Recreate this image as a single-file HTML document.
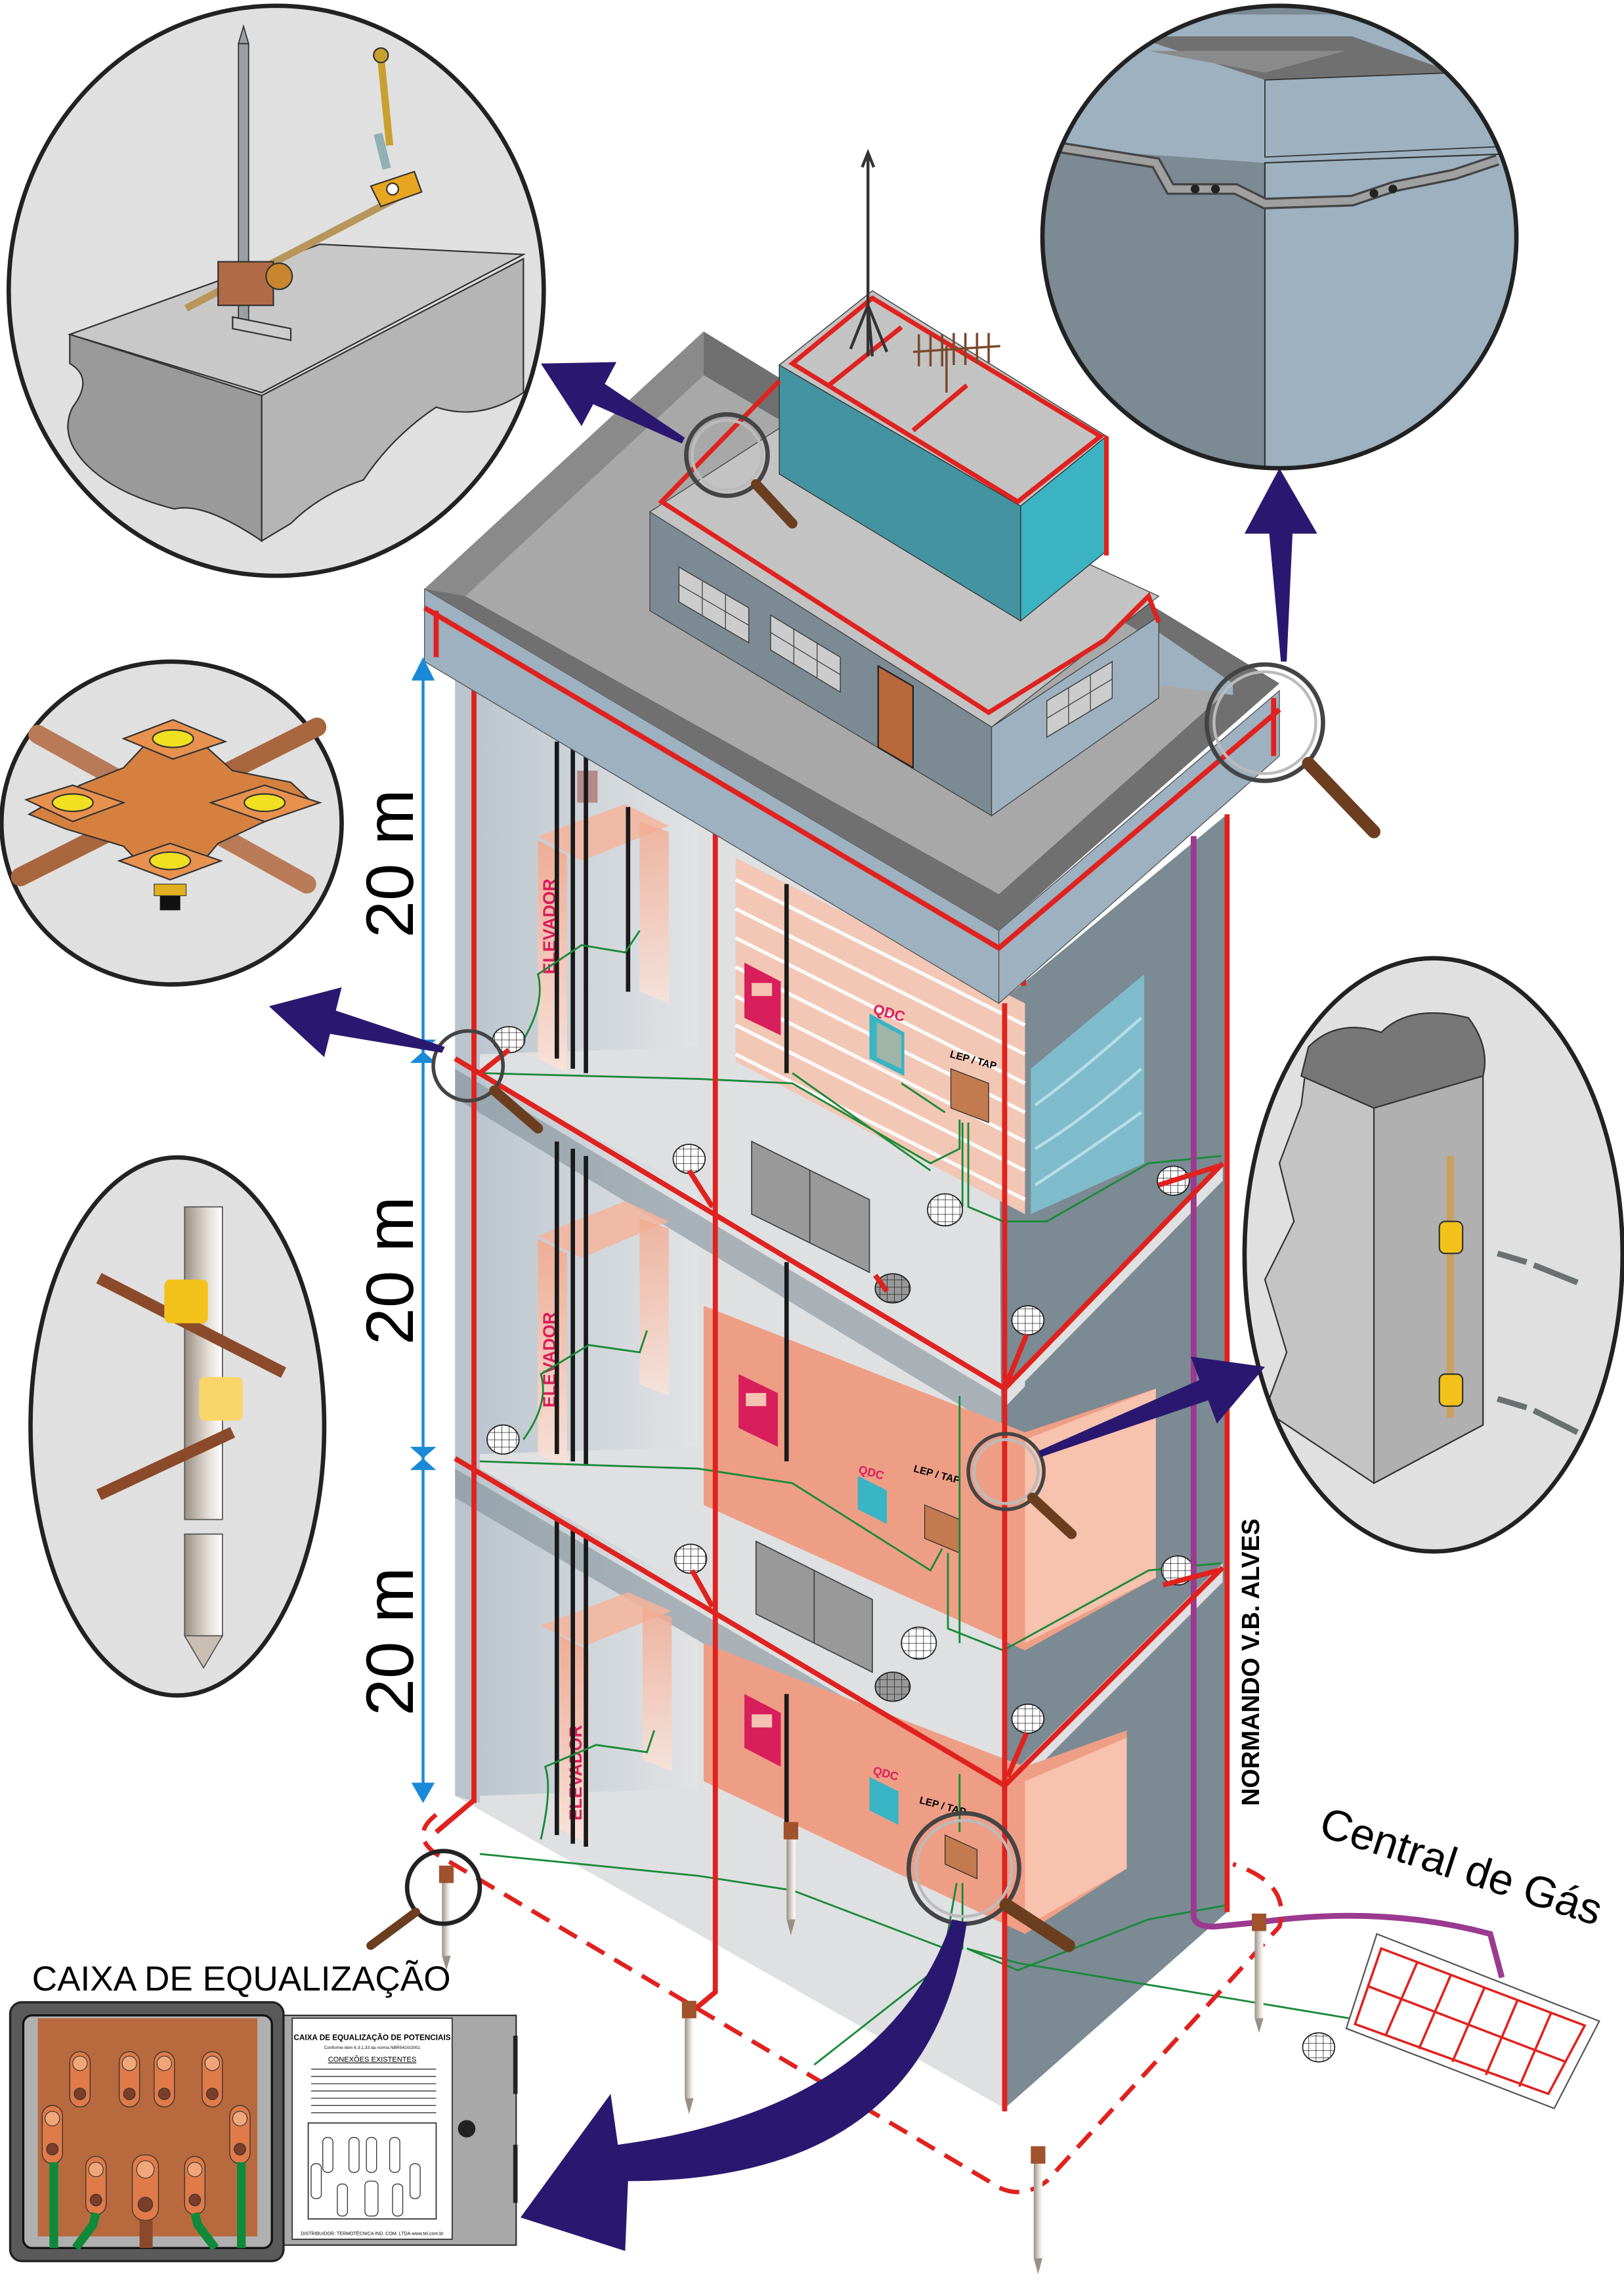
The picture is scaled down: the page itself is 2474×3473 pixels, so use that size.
<!DOCTYPE html>
<html><head><meta charset="utf-8"><style>
html,body{margin:0;padding:0;background:#fff}
svg{display:block}
text{font-family:"Liberation Sans",sans-serif}
</style></head><body>
<svg width="2474" height="3473" viewBox="0 0 1117 1568" preserveAspectRatio="none" xmlns="http://www.w3.org/2000/svg">
<defs>
<pattern id="mesh" width="5" height="5" patternUnits="userSpaceOnUse"><rect width="5" height="5" fill="#fff"/><path d="M0 0H5M0 0V5" stroke="#222" stroke-width="0.7"/></pattern>
<pattern id="meshd" width="5" height="5" patternUnits="userSpaceOnUse"><rect width="5" height="5" fill="#999"/><path d="M0 0H5M0 0V5" stroke="#222" stroke-width="0.7"/></pattern>
<linearGradient id="lw" x1="0" x2="1"><stop offset="0" stop-color="#b4c0ca"/><stop offset="1" stop-color="#e2e4e6"/></linearGradient>
<linearGradient id="rod" x1="0" x2="1"><stop offset="0" stop-color="#9a8f84"/><stop offset="0.6" stop-color="#e2dbd3"/><stop offset="1" stop-color="#fff"/></linearGradient>
<linearGradient id="elev" x1="0" x2="0" y1="0" y2="1"><stop offset="0" stop-color="#f2a98f"/><stop offset="1" stop-color="#fbe3d8"/></linearGradient>
<clipPath id="c1"><ellipse cx="190" cy="200" rx="184" ry="196"/></clipPath>
<clipPath id="c2"><ellipse cx="880" cy="163" rx="163" ry="159"/></clipPath>
<clipPath id="c5"><ellipse cx="986" cy="863" rx="130" ry="204"/></clipPath>
</defs>

<!-- ===== BUILDING ===== -->
<polygon points="687,690 844,560 844,1315 691,1450" fill="#7b8a93"/>
<polygon points="313,455 687,690 691,1450 313,1235" fill="#dfe0e2"/>
<polygon points="313,455 330,465 330,1240 313,1235" fill="#b9c4cd"/>
<polygon points="330,465 480,560 480,720 330,725" fill="url(#lw)" opacity="0.8"/>
<polygon points="330,740 480,820 480,995 330,1000" fill="url(#lw)" opacity="0.8"/>
<polygon points="330,1010 480,1095 480,1230 330,1235" fill="url(#lw)" opacity="0.8"/>
<polygon points="313,735 691,962 841,812 841,830 691,985 313,755" fill="#7b8a93" opacity="0.55"/>
<polygon points="313,1010 691,1232 841,1085 841,1100 691,1252 313,1030" fill="#7b8a93" opacity="0.55"/>
<polygon points="691,955 841,800 841,812 691,968" fill="#dfe0e2"/>
<polygon points="705,950 841,812 841,930 705,1010" fill="#7b8a93"/>
<polygon points="691,1225 841,1075 841,1088 691,1238" fill="#dfe0e2"/>
<polygon points="506,590 705,690 705,835 506,730" fill="#f3c7b5"/>
<g stroke="#fff" stroke-width="2.5" opacity="0.9">
<path d="M506,605 L705,705 M506,625 L705,725 M506,645 L705,745 M506,665 L705,765 M506,685 L705,785 M506,705 L705,805 M506,725 L705,825"/>
</g>
<polygon points="709,735 787,670 787,800 709,835" fill="#7fbccb"/>
<path d="M712,760 Q740,740 785,700 M712,790 Q745,770 785,735 M712,815 Q750,790 785,765" stroke="#b8dde6" stroke-width="2" fill="none"/>
<polygon points="484,898 705,985 795,955 795,1085 705,1135 484,1035" fill="#ef9e86"/>
<polygon points="705,990 795,955 795,1085 705,1130" fill="#f7c2ae"/>
<polygon points="484,1130 705,1215 775,1190 775,1285 705,1330 484,1225" fill="#ef9e86"/>
<polygon points="705,1225 775,1195 775,1285 705,1325" fill="#f7c2ae"/>

<g>
<polygon points="370,575 430,553 460,568 400,592" fill="#f4b49c" opacity="0.85"/>
<polygon points="370,578 390,588 390,738 370,728" fill="url(#elev)" opacity="0.9"/>
<polygon points="440,565 460,572 460,690 440,682" fill="url(#elev)" opacity="0.8"/>
<polygon points="370,850 430,826 460,840 400,865" fill="#f4b49c" opacity="0.85"/>
<polygon points="370,852 390,862 390,1010 370,1000" fill="url(#elev)" opacity="0.9"/>
<polygon points="440,838 460,845 460,960 440,952" fill="url(#elev)" opacity="0.8"/>
<polygon points="372,1118 432,1095 462,1108 402,1132" fill="#f4b49c" opacity="0.85"/>
<polygon points="385,1125 405,1135 405,1268 385,1258" fill="url(#elev)" opacity="0.9"/>
<polygon points="442,1106 462,1112 462,1218 442,1210" fill="url(#elev)" opacity="0.8"/>
</g>
<text transform="translate(382,670) rotate(-90)" font-size="12" font-weight="bold" fill="#d81e5b">ELEVADOR</text>
<text transform="translate(382,968) rotate(-90)" font-size="12" font-weight="bold" fill="#d81e5b">ELEVADOR</text>
<text transform="translate(400,1252) rotate(-90)" font-size="12" font-weight="bold" fill="#d81e5b">ELEVADOR</text>
<rect x="397" y="530" width="14" height="22" fill="#b58a88"/>
<g stroke="#1a1a1a" stroke-width="3">
<path d="M383,510V728 M394,515V735 M403,520V738 M432,555V682"/>
<path d="M383,785V1000 M394,790V1005 M403,795V1008"/>
<path d="M383,1045V1262 M394,1050V1268 M403,1055V1270"/>
<path d="M541,608V738 M541,868V1005 M541,1165V1262"/>
</g>
<g fill="#d81e5b">
<polygon points="512,662 537,675 537,712 512,700"/>
<polygon points="508,945 535,958 535,995 508,982"/>
<polygon points="512,1165 537,1178 537,1215 512,1202"/>
</g>
<g fill="#f6c3b2"><rect x="517" y="676" width="14" height="9"/><rect x="513" y="958" width="14" height="9"/><rect x="517" y="1179" width="14" height="9"/></g>
<polygon points="598,697 622,710 622,740 598,728" fill="#38b4c5"/><polygon points="603,703 620,712 620,735 603,727" fill="#9fb5a8"/>
<text x="600" y="697" font-size="10" font-weight="bold" fill="#d81e5b" transform="rotate(15 600 697)">QDC</text>
<polygon points="590,1015 610,1025 610,1048 590,1038" fill="#38b4c5"/>
<text x="590" y="1013" font-size="8" font-weight="bold" fill="#d81e5b" transform="rotate(15 590 1013)">QDC</text>
<polygon points="598,1222 618,1232 618,1255 598,1245" fill="#38b4c5"/>
<text x="600" y="1220" font-size="8" font-weight="bold" fill="#d81e5b" transform="rotate(15 600 1220)">QDC</text>
<polygon points="654,735 680,745 680,772 654,762" fill="#c27a4e" stroke="#333" stroke-width="0.6"/>
<text x="653" y="727" font-size="7" font-weight="bold" transform="rotate(15 653 727)">LEP / TAP</text>
<polygon points="636,1035 660,1045 660,1068 636,1058" fill="#c27a4e" stroke="#333" stroke-width="0.6"/>
<text x="628" y="1012" font-size="7" font-weight="bold" transform="rotate(15 628 1012)">LEP / TAP</text>
<polygon points="650,1262 672,1272 672,1292 650,1282" fill="#c27a4e" stroke="#333" stroke-width="0.6"/>
<text x="632" y="1240" font-size="7" font-weight="bold" transform="rotate(15 632 1240)">LEP / TAP</text>
<polygon points="517,785 598,825 598,875 517,835" fill="#999" stroke="#444" stroke-width="0.8"/>
<path d="M557,805V855" stroke="#444" stroke-width="0.8"/>
<polygon points="520,1060 600,1100 600,1150 520,1110" fill="#999" stroke="#444" stroke-width="0.8"/>
<path d="M560,1080V1130" stroke="#444" stroke-width="0.8"/>
<g stroke="#1a8a3a" stroke-width="1.3" fill="none">
<path d="M360,715 Q375,690 370,670 L400,650 L430,655 L440,640"/>
<path d="M330,738 L480,742 L545,745 L640,800 L660,790 L660,770"/>
<path d="M545,738 L640,805 M620,745 L650,765 M662,772 L662,830 M666,772 L666,830 L690,840 L720,840 L790,800 L840,795"/>
<path d="M360,990 Q378,965 372,945 L405,925 L440,930 L445,915"/>
<path d="M330,1005 L480,1010 L545,1020 L640,1080 L648,1065 M652,1068 L652,1120 L690,1135 L790,1080 L840,1075 M660,960 L660,1130"/>
<path d="M372,1265 Q380,1230 375,1215 L410,1200 L445,1205 L450,1190"/>
<path d="M330,1275 L480,1290 L545,1300 L650,1340 L658,1295 M662,1295 L662,1340 L560,1420 M665,1340 L700,1355 L790,1320 L845,1310 M665,1340 L700,1350 L940,1390 M660,1220 L660,1260"/>
</g>
<g stroke="#222" stroke-width="0.8">
<ellipse cx="350" cy="715" rx="11" ry="9" fill="url(#mesh)"/>
<ellipse cx="474" cy="797" rx="11" ry="10" fill="url(#mesh)"/>
<ellipse cx="650" cy="832" rx="12" ry="11" fill="url(#mesh)"/>
<ellipse cx="614" cy="886" rx="12" ry="10" fill="url(#meshd)"/>
<ellipse cx="707" cy="908" rx="11" ry="10" fill="url(#mesh)"/>
<ellipse cx="807" cy="812" rx="11" ry="10" fill="url(#mesh)"/>
<ellipse cx="346" cy="990" rx="11" ry="10" fill="url(#mesh)"/>
<ellipse cx="475" cy="1072" rx="11" ry="10" fill="url(#mesh)"/>
<ellipse cx="632" cy="1130" rx="12" ry="11" fill="url(#mesh)"/>
<ellipse cx="614" cy="1160" rx="12" ry="10" fill="url(#meshd)"/>
<ellipse cx="707" cy="1182" rx="11" ry="10" fill="url(#mesh)"/>
<ellipse cx="810" cy="1080" rx="11" ry="10" fill="url(#mesh)"/>
<ellipse cx="907" cy="1408" rx="11" ry="10" fill="url(#mesh)"/>
</g>
<path d="M821,575 V1318 Q822,1325 835,1325 L866,1322 Q950,1310 1025,1330 L1033,1360" stroke="#9b3a8f" stroke-width="4" fill="none"/>
<g stroke="#e0221f" stroke-width="3.5" fill="none">
<path d="M326,465 V1240 M492,532 V1370 L474,1385 M691,690 V1452 M704,640 V678 M844,560 V1315 M824,550V565"/>
<path d="M313,728 L691,955 L841,800 M313,1003 L691,1228 L841,1078"/>
<path d="M350,722 L330,738 M474,805 L490,830 M706,918 L693,950 M797,815 L838,802 M476,1080 L490,1105 M706,1192 L693,1222 M800,1090 L838,1080 M326,1238 L300,1260 M602,877 L610,888"/>
</g>
<path d="M300,1248 Q282,1262 300,1275 L680,1500 Q700,1515 720,1500 L880,1325 Q888,1295 848,1282" stroke="#e0221f" stroke-width="3" stroke-dasharray="14 8" fill="none"/>
<polygon points="947,1330 1100,1390 1069,1450 926,1395" fill="#fff" stroke="#555" stroke-width="1"/>
<g stroke="#e0221f" stroke-width="1.6" fill="none">
<polygon points="950,1340 1090,1393 1065,1440 932,1392"/>
<path d="M941,1366 L1077,1418 M975,1349 L953,1400 M998,1358 L976,1409 M1021,1367 L999,1418 M1044,1375 L1022,1427 M1067,1384 L1045,1435"/>
</g>
<g>
<g transform="translate(307,1285)"><rect x="-3" y="0" width="6" height="60" fill="url(#rod)"/><path d="M-3,60 L0,70 L3,60Z" fill="#9a8f84"/><rect x="-5" y="-2" width="10" height="12" fill="#a0522d"/></g>
<g transform="translate(474,1378)"><rect x="-3" y="0" width="6" height="65" fill="url(#rod)"/><path d="M-3,65 L0,76 L3,65Z" fill="#9a8f84"/><rect x="-5" y="-2" width="10" height="12" fill="#a0522d"/></g>
<g transform="translate(544,1255)"><rect x="-3" y="0" width="6" height="65" fill="url(#rod)"/><path d="M-3,65 L0,76 L3,65Z" fill="#9a8f84"/><rect x="-5" y="-2" width="10" height="12" fill="#a0522d"/></g>
<g transform="translate(714,1478)"><rect x="-3" y="0" width="6" height="75" fill="url(#rod)"/><path d="M-3,75 L0,86 L3,75Z" fill="#9a8f84"/><rect x="-5" y="-2" width="10" height="12" fill="#a0522d"/></g>
<g transform="translate(866,1318)"><rect x="-3" y="0" width="6" height="70" fill="url(#rod)"/><path d="M-3,70 L0,80 L3,70Z" fill="#9a8f84"/><rect x="-5" y="-2" width="10" height="12" fill="#a0522d"/></g>
</g>

<!-- ROOF SLAB -->
<polygon points="292,405 687,640 687,690 292,455" fill="#9db1c0" stroke="#555" stroke-width="0.6"/>
<polygon points="687,640 880,475 880,520 687,690" fill="#9db1c0" stroke="#555" stroke-width="0.6"/>
<polygon points="292,405 484,228 880,470 687,640" fill="#707070"/>
<polygon points="320,410 484,258 848,472 687,615" fill="#a8a8a8"/>
<polygon points="484,228 484,258 320,410 292,405" fill="#8a8a8a"/>
<g stroke="#e0221f" stroke-width="3.5" fill="none">
<path d="M292,418 L687,652 L880,488 M300,420 V452 M876,480 V520"/>
</g>
<!-- penthouse -->
<polygon points="790,430 848,470 848,478 790,470" fill="#9db1c0"/>
<polygon points="447,352 682,500 682,561 447,420" fill="#7b8a93" stroke="#444" stroke-width="0.6"/>
<polygon points="682,500 797,424 797,480 682,561" fill="#9db1c0" stroke="#444" stroke-width="0.6"/>
<polygon points="447,352 540,292 797,410 682,500" fill="#c3c3c3" stroke="#444" stroke-width="0.6"/>
<g fill="#ccc" stroke="#444" stroke-width="0.7">
<polygon points="467,390 515,418 515,442 467,414"/>
<polygon points="530,423 578,452 578,476 530,447"/>
<polygon points="720,482 765,455 765,480 720,507"/>
</g>
<g stroke="#444" stroke-width="0.6"><path d="M483,400V424 M499,409V433 M467,402 L515,430 M546,433V457 M562,442V466 M530,435 L578,464 M735,473V498 M750,464V489 M720,494 L765,467"/></g>
<polygon points="604,458 628,472 628,528 604,514" fill="#b8683a" stroke="#222" stroke-width="1"/>
<polygon points="536,251 702,348 702,427 536,326" fill="#4393a0" stroke="#333" stroke-width="0.6"/>
<polygon points="702,348 761,300 761,379 702,427" fill="#3bb3c3" stroke="#333" stroke-width="0.6"/>
<polygon points="536,251 600,200 761,300 702,348" fill="#c3c3c3" stroke="#333" stroke-width="0.6"/>
<g stroke="#e0221f" stroke-width="3.2" fill="none">
<path d="M545,250 L600,205 L757,300 L700,345 Z M570,265 L620,225 M628,296 L665,265"/>
<path d="M536,262 L455,345 L680,490 L760,440 L790,410 L797,428 M761,300 V382"/>
</g>
<g stroke="#333" stroke-width="2" fill="none"><path d="M597,105 V245 M597,210 L585,240 M597,210 L610,242 M597,210 L600,245 M593,115 L597,105 L601,115"/></g>
<g stroke="#7a4a2e" stroke-width="1.6"><path d="M628,242 L688,238 M632,230V252 M640,230V252 M648,230V252 M656,229V251 M664,229V251 M672,229V250 M680,229V250 M651,238 V270"/></g>

<g stroke="#1a8ad8" stroke-width="2"><path d="M291,460 V1232"/></g>
<g fill="#1a8ad8">
<path d="M291,452 L283,468 L299,468Z"/>
<path d="M282,715 L300,715 L291,723Z M282,731 L300,731 L291,723Z"/>
<path d="M282,995 L300,995 L291,1003Z M282,1011 L300,1011 L291,1003Z"/>
<path d="M291,1240 L283,1226 L299,1226Z"/>
</g>
<text transform="translate(284,645) rotate(-90)" font-size="46">20 m</text>
<text transform="translate(284,925) rotate(-90)" font-size="46">20 m</text>
<text transform="translate(284,1180) rotate(-90)" font-size="46">20 m</text>

<g fill="none">
<g><circle cx="500" cy="313" r="28" stroke="#444" stroke-width="3"/><circle cx="500" cy="313" r="24" stroke="#bbb" stroke-width="2"/><path d="M520,333 L545,360" stroke="#6b3e20" stroke-width="7" stroke-linecap="round"/></g>
<g><circle cx="870" cy="497" r="40" stroke="#444" stroke-width="3"/><circle cx="870" cy="497" r="35" stroke="#bbb" stroke-width="2"/><path d="M900,525 L945,572" stroke="#6b3e20" stroke-width="9" stroke-linecap="round"/></g>
<g><circle cx="322" cy="733" r="24" stroke="#444" stroke-width="2.5"/><path d="M340,750 L370,776" stroke="#6b3e20" stroke-width="7" stroke-linecap="round"/></g>
<g><circle cx="692" cy="1012" r="26" stroke="#444" stroke-width="2.5"/><circle cx="692" cy="1012" r="22" stroke="#bbb" stroke-width="2"/><path d="M710,1030 L737,1055" stroke="#6b3e20" stroke-width="7" stroke-linecap="round"/></g>
<g><circle cx="663" cy="1285" r="38" stroke="#444" stroke-width="3"/><circle cx="663" cy="1285" r="33" stroke="#bbb" stroke-width="2"/><path d="M692,1310 L735,1338" stroke="#6b3e20" stroke-width="9" stroke-linecap="round"/></g>
<g><circle cx="305" cy="1298" r="25" stroke="#222" stroke-width="3"/><path d="M286,1315 L255,1338" stroke="#6b3e20" stroke-width="6" stroke-linecap="round"/></g>
</g>

<!-- CIRCLE 1 -->
<ellipse cx="190" cy="200" rx="184" ry="196" fill="#e0e0e0"/>
<g clip-path="url(#c1)">
<polygon points="48,230 220,168 360,175 180,270" fill="#c8c8c8" stroke="#333" stroke-width="1"/>
<path d="M48,230 L180,272 L180,372 Q140,345 120,350 Q80,340 60,320 Q40,300 50,280 Q65,260 48,250Z" fill="#9a9a9a" stroke="#333" stroke-width="1"/>
<path d="M180,272 L360,178 L360,270 Q330,290 300,280 Q270,300 250,330 Q220,340 200,360 L180,372Z" fill="#b5b5b5" stroke="#333" stroke-width="1"/>
<rect x="164" y="30" width="7" height="195" fill="#9aa0a5" stroke="#333" stroke-width="0.8"/>
<path d="M164,30 L167.5,18 L171,30Z" fill="#9aa0a5" stroke="#333" stroke-width="0.8"/>
<path d="M128,212 L285,130" stroke="#b8955a" stroke-width="5"/>
<rect x="150" y="180" width="38" height="30" fill="#b06a45" stroke="#333"/>
<circle cx="192" cy="190" r="9" fill="#c9862f" stroke="#333"/>
<polygon points="255,128 285,118 290,132 262,142" fill="#e8a520" stroke="#333"/>
<circle cx="270" cy="130" r="4" fill="#fff" stroke="#333"/>
<path d="M262,40 L268,100" stroke="#c9a030" stroke-width="5"/>
<circle cx="262" cy="38" r="5" fill="#c9a030" stroke="#333"/>
<path d="M260,92 L266,116" stroke="#8fb0b5" stroke-width="6"/>
<polygon points="160,218 200,226 200,234 160,226" fill="#ccc" stroke="#333"/>
</g>
<ellipse cx="190" cy="200" rx="184" ry="196" fill="none" stroke="#222" stroke-width="3"/>

<!-- CIRCLE 2 -->
<ellipse cx="880" cy="163" rx="163" ry="159" fill="#7b8a93"/>
<g clip-path="url(#c2)">
<polygon points="700,10 1060,10 1060,110 870,112 700,100" fill="#9db1c0"/>
<polygon points="780,25 930,25 1000,50 870,55" fill="#707070"/>
<polygon points="790,35 925,35 870,50" fill="#8a8a8a"/>
<polygon points="870,55 1000,50 1050,100 870,108" fill="#9db1c0" stroke="#333" stroke-width="0.8"/>
<polygon points="870,112 1060,105 1060,330 870,330" fill="#9db1c0" stroke="#333" stroke-width="1"/>
<path d="M720,100 L795,112 L805,130 L850,130 L870,140 L930,138 L960,128 L1000,120 L1030,110" stroke="#444" stroke-width="8" fill="none"/>
<path d="M720,100 L795,112 L805,130 L850,130 L870,140 L930,138 L960,128 L1000,120 L1030,110" stroke="#a0a0a0" stroke-width="5" fill="none"/>
<circle cx="822" cy="130" r="3" fill="#222"/><circle cx="836" cy="130" r="3" fill="#222"/>
<circle cx="945" cy="133" r="3" fill="#222"/><circle cx="958" cy="130" r="3" fill="#222"/>
</g>
<ellipse cx="880" cy="163" rx="163" ry="159" fill="none" stroke="#222" stroke-width="3"/>

<!-- CIRCLE 3 copper cross -->
<ellipse cx="118" cy="566" rx="117" ry="111" fill="#e0e0e0" stroke="#222" stroke-width="3"/>
<g>
<path d="M26,505 L211,608" stroke="#b97a58" stroke-width="13" stroke-linecap="round"/>
<path d="M218,500 L14,603" stroke="#a8663f" stroke-width="13" stroke-linecap="round"/>
<path d="M55,540 L85,528 L100,512 L140,512 L160,530 L200,538 L215,552 L180,566 L150,580 L135,598 L100,598 L85,582 L45,570 L20,560 Z" fill="#d6803f" stroke="#333" stroke-width="1"/>
<polygon points="85,508 119,495 155,510 119,522" fill="#e8914f" stroke="#333"/>
<polygon points="18,550 50,540 85,552 50,565" fill="#e8914f" stroke="#333"/>
<polygon points="145,552 182,540 220,552 182,565" fill="#e8914f" stroke="#333"/>
<polygon points="82,592 117,580 152,592 117,605" fill="#e8914f" stroke="#333"/>
<ellipse cx="119" cy="508" rx="14" ry="6" fill="#f0e020" stroke="#333"/>
<ellipse cx="50" cy="552" rx="14" ry="6" fill="#f0e020" stroke="#333"/>
<ellipse cx="182" cy="552" rx="14" ry="6" fill="#f0e020" stroke="#333"/>
<ellipse cx="117" cy="592" rx="14" ry="6" fill="#f0e020" stroke="#333"/>
<rect x="110" y="616" width="14" height="10" fill="#111"/>
<rect x="106" y="608" width="22" height="8" fill="#e0b020" stroke="#333" stroke-width="0.5"/>
</g>

<!-- CIRCLE 4 -->
<ellipse cx="122" cy="981" rx="101" ry="185" fill="#e0e0e0" stroke="#222" stroke-width="3"/>
<rect x="127" y="830" width="26" height="215" fill="url(#rod)" stroke="#555" stroke-width="0.8"/>
<rect x="127" y="1055" width="26" height="70" fill="url(#rod)" stroke="#555" stroke-width="0.8"/>
<path d="M127,1125 L140,1147 L153,1125Z" fill="#c9beb2" stroke="#555" stroke-width="0.8"/>
<path d="M68,879 L195,944" stroke="#8b4a2a" stroke-width="8"/>
<path d="M68,1028 L160,985" stroke="#8b4a2a" stroke-width="8"/>
<rect x="113" y="880" width="30" height="30" rx="4" fill="#f3c21a"/>
<rect x="137" y="947" width="30" height="30" rx="4" fill="#f9d56a"/>

<!-- CIRCLE 5 -->
<ellipse cx="986" cy="863" rx="130" ry="204" fill="#e0e0e0"/>
<g clip-path="url(#c5)">
<path d="M900,720 Q920,700 950,710 Q970,690 1010,700 Q1025,720 1020,740 L1020,980 L945,1020 L870,970 L885,930 L870,880 L890,840 L880,800 L895,760Z" fill="#c4c4c4" stroke="#333" stroke-width="1"/>
<path d="M945,760 L1020,740 L1020,980 L945,1020Z" fill="#b0b0b0" stroke="#333" stroke-width="1"/>
<path d="M900,720 Q920,700 950,710 Q970,690 1010,700 Q1025,720 1020,740 L945,762 L895,740Z" fill="#777" stroke="#333"/>
<rect x="995" y="795" width="5" height="180" fill="#c9a060"/>
<rect x="990" y="840" width="16" height="22" rx="4" fill="#f3c21a" stroke="#333"/>
<rect x="990" y="945" width="16" height="22" rx="4" fill="#f3c21a" stroke="#333"/>
<path d="M1030,862 L1050,868 M1055,870 L1085,882" stroke="#6a7070" stroke-width="4"/>
<path d="M1030,962 L1050,968 M1055,970 L1085,985" stroke="#6a7070" stroke-width="4"/>
</g>
<ellipse cx="986" cy="863" rx="130" ry="204" fill="none" stroke="#222" stroke-width="3"/>

<!-- BLUE ARROWS -->
<g fill="#2a1870">
<polygon points="372,250 424,249 416,264 471,301 469,305 408,278 400,293"/>
<polygon points="880,322 906,367 889,367 885,455 881,455 873,367 856,367"/>
<polygon points="185,692 235,679 231,695 306,720 304,724 227,711 223,727"/>
<polygon points="870,940 819,933 825,949 714,998 716,1002 831,963 837,979"/>
<path d="M358,1525 L420,1440 L425,1475 Q610,1450 655,1320 L665,1322 Q640,1500 432,1500 L430,1548 Z"/>
</g>

<text transform="translate(866,1242) rotate(-90)" font-size="17" font-weight="bold">NORMANDO V.B. ALVES</text>
<text transform="translate(906,1262) rotate(18)" font-size="30">Central de Gás</text>
<text x="22" y="1369" font-size="24">CAIXA DE EQUALIZAÇÃO</text>

<!-- CAIXA -->
<rect x="195" y="1386" width="160" height="158" fill="#a8a8a8" stroke="#333" stroke-width="1"/>
<rect x="201" y="1388" width="110" height="152" fill="#fff" stroke="#333" stroke-width="0.8"/>
<text x="256" y="1403" font-size="5.3" font-weight="bold" text-anchor="middle">CAIXA DE EQUALIZAÇÃO  DE POTENCIAIS</text>
<text x="256" y="1409" font-size="3" text-anchor="middle">Conforme item 6.3.1.33 da norma NBR5410/2001</text>
<text x="256" y="1418" font-size="5" text-anchor="middle" text-decoration="underline">CONEXÕES EXISTENTES</text>
<g stroke="#333" stroke-width="0.6"><path d="M214,1423H300M214,1428H300M214,1433H300M214,1438H300M214,1443H300M214,1448H300M214,1453H300"/></g>
<rect x="212" y="1460" width="88" height="66" fill="#fff" stroke="#333" stroke-width="0.8"/>
<g fill="none" stroke="#333" stroke-width="0.6">
<rect x="222" y="1470" width="7" height="24" rx="3"/><rect x="240" y="1470" width="7" height="24" rx="3"/><rect x="252" y="1470" width="7" height="24" rx="3"/><rect x="268" y="1470" width="7" height="24" rx="3"/>
<rect x="214" y="1488" width="7" height="24" rx="3"/><rect x="282" y="1488" width="7" height="24" rx="3"/>
<rect x="232" y="1502" width="7" height="22" rx="3"/><rect x="251" y="1500" width="9" height="24" rx="3"/><rect x="270" y="1502" width="7" height="22" rx="3"/>
</g>
<text x="256" y="1537" font-size="3.2" text-anchor="middle">DISTRIBUIDOR: TERMOTÉCNICA IND. COM. LTDA-www.tel.com.br</text>
<circle cx="321" cy="1464" r="6" fill="#222"/>
<rect x="353" y="1400" width="3" height="40" fill="#222"/><rect x="353" y="1475" width="3" height="40" fill="#222"/>
<rect x="7" y="1377" width="188" height="178" rx="8" fill="#5a5a5a" stroke="#222" stroke-width="1.5"/>
<rect x="16" y="1386" width="171" height="160" rx="6" fill="#b0b0b0" stroke="#111" stroke-width="1.5"/>
<rect x="26" y="1388" width="151" height="150" fill="#b86a3e"/>
<g fill="#e07a48" stroke="#333" stroke-width="0.6">
<rect x="48" y="1411" width="14" height="38" rx="7"/><rect x="82" y="1411" width="14" height="38" rx="7"/><rect x="106" y="1411" width="14" height="38" rx="7"/><rect x="139" y="1411" width="14" height="38" rx="7"/>
<rect x="29" y="1448" width="14" height="40" rx="7"/><rect x="158" y="1448" width="14" height="40" rx="7"/>
<rect x="59" y="1483" width="14" height="40" rx="7"/><rect x="91" y="1482" width="18" height="45" rx="8"/><rect x="127" y="1483" width="14" height="40" rx="7"/>
</g>
<g fill="#f1a679" stroke="#333" stroke-width="0.5">
<circle cx="55" cy="1419" r="5"/><circle cx="89" cy="1419" r="5"/><circle cx="113" cy="1419" r="5"/><circle cx="146" cy="1419" r="5"/>
<circle cx="36" cy="1457" r="5"/><circle cx="165" cy="1457" r="5"/><circle cx="66" cy="1492" r="5"/><circle cx="100" cy="1492" r="6"/><circle cx="134" cy="1492" r="5"/>
</g>
<g fill="#7a3e2a" stroke="#333" stroke-width="0.5">
<circle cx="55" cy="1440" r="4"/><circle cx="89" cy="1440" r="4"/><circle cx="113" cy="1440" r="4"/><circle cx="146" cy="1440" r="4"/>
<circle cx="36" cy="1478" r="4"/><circle cx="165" cy="1478" r="4"/><circle cx="66" cy="1513" r="4"/><circle cx="100" cy="1516" r="5"/><circle cx="134" cy="1513" r="4"/>
</g>
<g stroke="#0f8a3a" stroke-width="6" fill="none">
<path d="M37,1487 V1546 M166,1487 V1546 M66,1522 L64,1530 L52,1546 M134,1522 L136,1530 L148,1546"/>
</g>
<rect x="96" y="1527" width="9" height="19" fill="#8a4a2a"/>
</svg>
</body></html>
